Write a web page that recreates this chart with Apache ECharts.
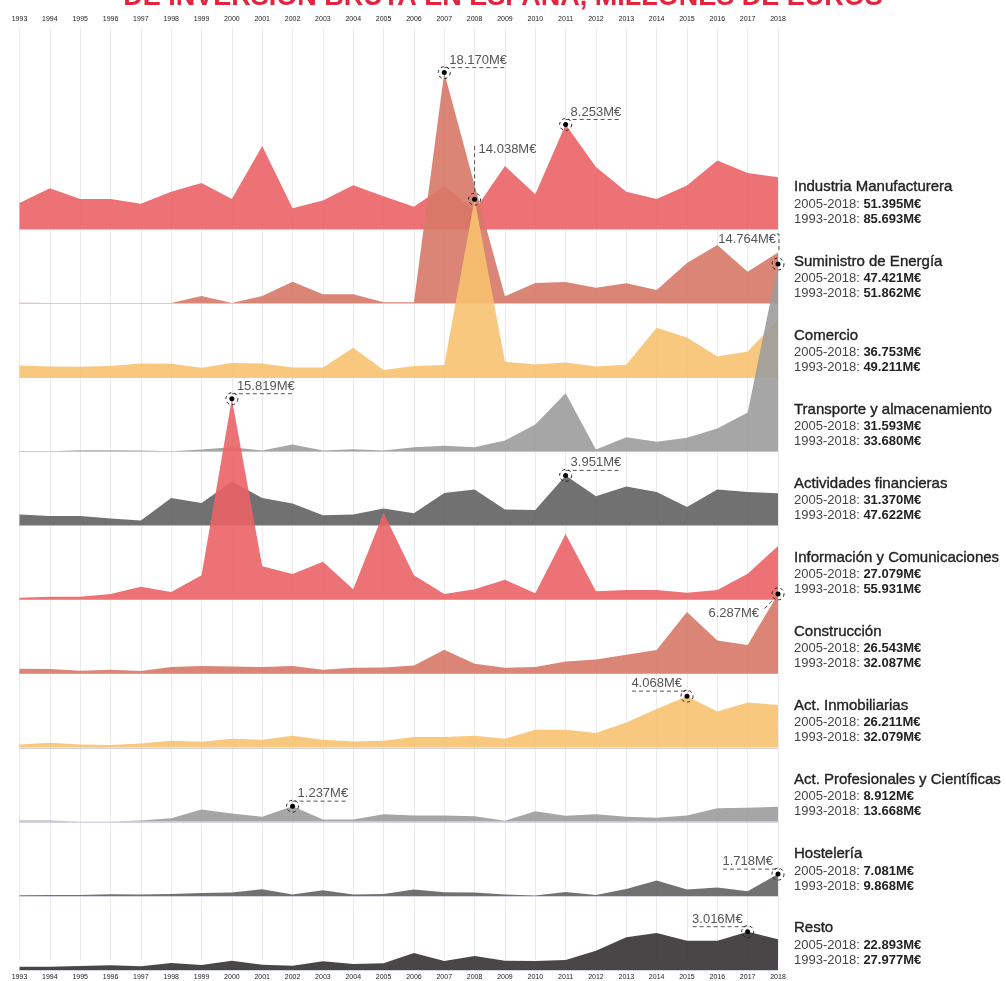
<!DOCTYPE html>
<html>
<head>
<meta charset="utf-8">
<title>Inversión bruta por sectores</title>
<script src="https://cdn.jsdelivr.net/npm/echarts@6/dist/echarts.min.js"></script>
<style>
    html, body { margin: 0; padding: 0; background: #fff; }
    #chart { width: 1006px; height: 981px; }
</style>
</head>
<body>
<div id="chart"></div>
<script>
// años y sectores
var years = ['1993', '1994', '1995', '1996', '1997', '1998', '1999', '2000', '2001', '2002', '2003', '2004', '2005',
    '2006', '2007', '2008', '2009', '2010', '2011', '2012', '2013', '2014', '2015', '2016', '2017', '2018'];

var sectorNames = ['Industria Manufacturera', 'Suministro de Energía', 'Comercio', 'Transporte y almacenamiento',
    'Actividades financieras', 'Información y Comunicaciones', 'Construcción', 'Act. Inmobiliarias',
    'Act. Profesionales y Científicas', 'Hostelería', 'Resto'];

var total2005 = [51395, 47421, 36753, 31593, 31370, 27079, 26543, 26211, 8912, 7081, 22893];
var total1993 = [85693, 51862, 49211, 33680, 47622, 55931, 32087, 32079, 13668, 9868, 27977];

// millones de euros por año (1993-2018)
var industria = [2074, 3229, 2389, 2389, 2021, 2966, 3649, 2389, 6563, 1654, 2258, 3465, 2599,
    1785, 3413, 1500, 4988, 2756, 8253, 4909, 2966, 2389, 3439, 5408, 4436, 4095];
var suministro = [50, 30, 30, 30, 30, 20, 578, 26, 578, 1706, 709, 709, 79,
    79, 18170, 9300, 551, 1601, 1680, 1234, 1575, 1050, 3176, 4594, 2494, 4010];
var comercio = [945, 866, 840, 893, 1103, 1076, 761, 1129, 1103, 788, 788, 2336, 578,
    893, 971, 14038, 1234, 1024, 1181, 866, 998, 3911, 3150, 1654, 2048, 4515];
var transporte = [30, 30, 105, 105, 79, 30, 158, 341, 79, 551, 79, 184, 79,
    341, 446, 341, 866, 2126, 4594, 158, 1129, 761, 1076, 1811, 3071, 14764];
var financieras = [866, 761, 761, 551, 394, 2179, 1785, 3465, 2179, 1733, 814, 866, 1339,
    971, 2573, 2835, 1260, 1234, 3951, 2310, 3071, 2651, 1470, 2835, 2651, 2546];
var informacion = [158, 236, 236, 446, 1024, 604, 1916, 15819, 2625, 2021, 2993, 814, 6851,
    1916, 446, 814, 1575, 499, 5171, 656, 761, 761, 551, 761, 2048, 4226];
var construccion = [394, 368, 236, 315, 210, 525, 604, 578, 525, 604, 315, 473, 499,
    656, 1890, 788, 470, 525, 971, 1129, 1496, 1864, 4856, 2625, 2258, 6287];
var inmobiliarias = [263, 394, 263, 210, 341, 551, 473, 709, 630, 945, 630, 499, 551,
    840, 840, 945, 709, 1418, 1418, 1155, 1995, 3045, 4068, 2861, 3570, 3360];
var profesionales = [105, 105, 30, 30, 105, 289, 971, 656, 394, 1237, 184, 184, 604,
    499, 499, 446, 79, 840, 473, 604, 394, 315, 499, 1076, 1103, 1181];
var hosteleria = [53, 79, 79, 131, 105, 158, 236, 263, 525, 105, 446, 105, 158,
    499, 289, 263, 105, 30, 315, 79, 551, 1208, 499, 656, 368, 1718];
var resto = [263, 263, 315, 368, 289, 551, 394, 735, 420, 341, 683, 473, 525,
    1339, 709, 1103, 735, 709, 788, 1523, 2573, 2914, 2310, 2310, 3016, 2415];

var seriesData = [industria, suministro, comercio, transporte, financieras, informacion,
    construccion, inmobiliarias, profesionales, hosteleria, resto];

// puntos destacados: [sector, año]
var peakPoints = [[1, 14], [2, 15], [0, 18], [3, 25], [5, 7], [4, 18], [6, 25], [7, 22], [8, 9], [9, 25], [10, 24]];
var calloutStyle = ['right', 'up', 'right', 'upLeft', 'right', 'right', 'downLeft', 'left', 'right', 'left', 'left'];

var colors = ['#ea6367', '#d77867', '#f7c270', '#9c9c9c', '#626262', '#ea6367',
    '#d77867', '#f7c270', '#9c9c9c', '#626262', '#363132'];

var K = 0.0127;            // px por millón
var FIRST_BASE = 229.3;
var BAND = 74.07;
var H = 981;
var LEFT = 19.5, RIGHT = 228;
var FONT = '"Liberation Sans", Arial, sans-serif';

function fmt(v) {
    return String(v).replace(/\B(?=(\d{3})+(?!\d))/g, '.') + 'M€';
}

var chart = echarts.init(document.getElementById('chart'));

var grids = [], xAxes = [], yAxes = [], series = [];
seriesData.forEach(function (d, i) {
    var base = FIRST_BASE + BAND * i;
    grids.push({ left: LEFT, right: RIGHT, top: 0, bottom: H - base });
    xAxes.push({
        gridIndex: i, type: 'category', data: years, boundaryGap: false,
        axisLine: { lineStyle: { color: '#cfd4de', width: 1 } },
        axisTick: { show: false }, axisLabel: { show: false }, splitLine: { show: false }
    });
    yAxes.push({ gridIndex: i, type: 'value', min: 0, max: base / K, show: false });
    series.push({
        type: 'line', name: sectorNames[i], xAxisIndex: i, yAxisIndex: i, data: d,
        symbol: 'none', silent: true,
        lineStyle: { width: 0 },
        areaStyle: { color: colors[i], opacity: 0.9 }
    });
});

// rejilla de fondo con los años
var bg = seriesData.length;
grids.push({ left: LEFT, right: RIGHT, top: 28, bottom: 9 });
xAxes.push({
    gridIndex: bg, type: 'category', data: years, boundaryGap: false, position: 'top',
    axisLine: { show: false }, axisTick: { show: false },
    axisLabel: { fontSize: 7, color: '#222', margin: 5, fontFamily: FONT, interval: 0 },
    splitLine: { show: true, lineStyle: { color: '#ebebeb', width: 1 } }
});
xAxes.push({
    gridIndex: bg, type: 'category', data: years, boundaryGap: false, position: 'bottom',
    axisLine: { show: false }, axisTick: { show: false },
    axisLabel: { fontSize: 7, color: '#222', margin: 14, fontFamily: FONT, interval: 0 },
    splitLine: { show: false }
});
yAxes.push({ gridIndex: bg, type: 'value', show: false });

var option = {
    animation: false,
    backgroundColor: '#fff',
    grid: grids,
    xAxis: xAxes,
    yAxis: yAxes,
    series: series
};

chart.setOption(option);

// textos y anotaciones
var graphics = [];

graphics.push({
    type: 'text', z: 100,
    style: {
        text: 'DE INVERSIÓN BRUTA EN ESPAÑA, MILLONES DE EUROS',
        x: 503, y: -2, align: 'center', verticalAlign: 'middle',
        font: 'bold 27px ' + FONT, fill: '#e5233d'
    }
});

sectorNames.forEach(function (name, i) {
    var base = FIRST_BASE + BAND * i;
    graphics.push({
        type: 'text', z: 100,
        style: {
            text: name, x: 794, y: base - 42, verticalAlign: 'middle', font: '15px ' + FONT,
            fill: '#222', stroke: '#222', lineWidth: 0.35
        }
    });
    graphics.push({
        type: 'text', z: 100,
        style: {
            text: '{a|2005-2018: }{b|' + fmt(total2005[i]) + '}', x: 794, y: base - 25, verticalAlign: 'middle',
            rich: { a: { fontSize: 13, fontFamily: FONT, fill: '#444' }, b: { fontSize: 13, fontFamily: FONT, fontWeight: 'bold', fill: '#222' } }
        }
    });
    graphics.push({
        type: 'text', z: 100,
        style: {
            text: '{a|1993-2018: }{b|' + fmt(total1993[i]) + '}', x: 794, y: base - 10, verticalAlign: 'middle',
            rich: { a: { fontSize: 13, fontFamily: FONT, fill: '#444' }, b: { fontSize: 13, fontFamily: FONT, fontWeight: 'bold', fill: '#222' } }
        }
    });
});

var dash = { stroke: '#555', lineWidth: 1, lineDash: [4, 3], fill: null };

peakPoints.forEach(function (pk, n) {
    var s = pk[0], yi = pk[1];
    var val = seriesData[s][yi];
    var p = chart.convertToPixel({ gridIndex: s }, [yi, val]);
    var px = p[0], py = p[1];
    var label = fmt(val);
    var w = label.length * 7;
    var pts, tx, ty, align;
    switch (calloutStyle[n]) {
        case 'right':
            pts = [[px, py - 5], [px + 6 + w, py - 5]];
            tx = px + 5; ty = py - 12.5; align = 'left';
            break;
        case 'left':
            pts = [[px - 6 - w, py - 5], [px + 2, py - 5]];
            tx = px - 5; ty = py - 12.5; align = 'right';
            break;
        case 'up':
            pts = [[px, py - 7], [px, py - 56]];
            tx = px + 4; ty = py - 50; align = 'left';
            break;
        case 'upLeft':
            pts = [[px + 1, py - 14], [px + 1, py - 30], [px - 1, py - 30]];
            tx = px - 2; ty = py - 25; align = 'right';
            break;
        case 'downLeft':
            pts = [[px - 6, py + 7], [px - 16, py + 17]];
            tx = px - 19; ty = py + 20; align = 'right';
            break;
    }
    graphics.push({ type: 'polyline', z: 100, shape: { points: pts }, style: dash });
    graphics.push({
        type: 'text', z: 101,
        style: { text: label, x: tx, y: ty, align: align, verticalAlign: 'middle', font: '13px ' + FONT, fill: '#555' }
    });
    graphics.push({
        type: 'circle', z: 101, shape: { cx: px, cy: py, r: 6 },
        style: { fill: null, stroke: '#222', lineWidth: 1, lineDash: [3, 3] }
    });
    graphics.push({ type: 'circle', z: 102, shape: { cx: px, cy: py, r: 2.5 }, style: { fill: '#000' } });
});

chart.setOption({ graphic: graphics });
</script>
</body>
</html>
